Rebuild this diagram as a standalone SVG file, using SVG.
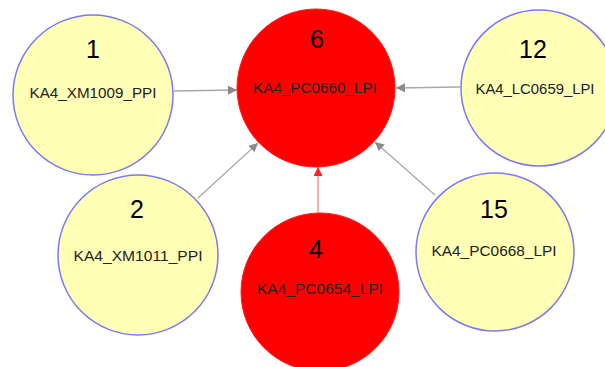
<svg xmlns="http://www.w3.org/2000/svg" width="605" height="367" viewBox="0 0 605 367">
<style>
.y{fill:#ffffb5;stroke:#7b7bf0;stroke-width:1.5}
.r{fill:#ff0000;stroke:#ff1a1a;stroke-width:1}
.num{font-family:"Liberation Sans",Arial,sans-serif;font-size:25px;fill:#000;text-anchor:middle}
.lbl{font-family:"Liberation Sans",Arial,sans-serif;font-size:14px;fill:#222;text-anchor:middle}
.e{stroke:#a8a8a8;stroke-width:1.3;fill:none}
.er{stroke:#ff8080;stroke-width:1.3;fill:none}
</style>
<defs>
<marker id="ag" viewBox="0 0 10 10" refX="10" refY="5" markerWidth="9" markerHeight="9" markerUnits="userSpaceOnUse" orient="auto"><path d="M0,0 L10,5 L0,10 z" fill="#8a8a8a"/></marker>
<marker id="ar" viewBox="0 0 10 10" refX="10" refY="5" markerWidth="9" markerHeight="9" markerUnits="userSpaceOnUse" orient="auto"><path d="M0,0 L10,5 L0,10 z" fill="#ff2020"/></marker>
</defs>
<rect width="605" height="367" fill="#fff"/>
<g id="edges">
<line class="e" x1="174" y1="91" x2="237" y2="90" marker-end="url(#ag)"/>
<line class="e" x1="460" y1="87" x2="396" y2="88" marker-end="url(#ag)"/>
<line class="e" x1="198" y1="198" x2="258" y2="143" marker-end="url(#ag)"/>
<line class="e" x1="435" y1="195" x2="375" y2="142" marker-end="url(#ag)"/>
<line class="er" x1="318" y1="216" x2="318" y2="167" marker-end="url(#ar)"/>
</g>
<g id="n1">
<circle class="y" cx="93" cy="95" r="80"/>
<text class="num" x="93" y="58">1</text>
<text class="lbl" x="93" y="98" textLength="127" lengthAdjust="spacingAndGlyphs">KA4_XM1009_PPI</text>
</g>
<g id="n6">
<circle class="r" cx="316" cy="88" r="79"/>
<text class="num" x="317" y="48">6</text>
<text class="lbl" x="315" y="93" textLength="124" lengthAdjust="spacingAndGlyphs">KA4_PC0660_LPI</text>
</g>
<g id="n12">
<circle class="y" cx="539" cy="88" r="78"/>
<text class="num" x="533" y="58">12</text>
<text class="lbl" x="535" y="94" textLength="119" lengthAdjust="spacingAndGlyphs">KA4_LC0659_LPI</text>
</g>
<g id="n2">
<circle class="y" cx="138" cy="255" r="80"/>
<text class="num" x="137" y="218">2</text>
<text class="lbl" x="138" y="261" textLength="129" lengthAdjust="spacingAndGlyphs">KA4_XM1011_PPI</text>
</g>
<g id="n4">
<circle class="r" cx="320" cy="292" r="79"/>
<text class="num" x="316" y="258">4</text>
<text class="lbl" x="320" y="294" textLength="126" lengthAdjust="spacingAndGlyphs">KA4_PC0654_LPI</text>
</g>
<g id="n15">
<circle class="y" cx="495" cy="252" r="79"/>
<text class="num" x="494" y="218">15</text>
<text class="lbl" x="494" y="256" textLength="125" lengthAdjust="spacingAndGlyphs">KA4_PC0668_LPI</text>
</g>
</svg>
